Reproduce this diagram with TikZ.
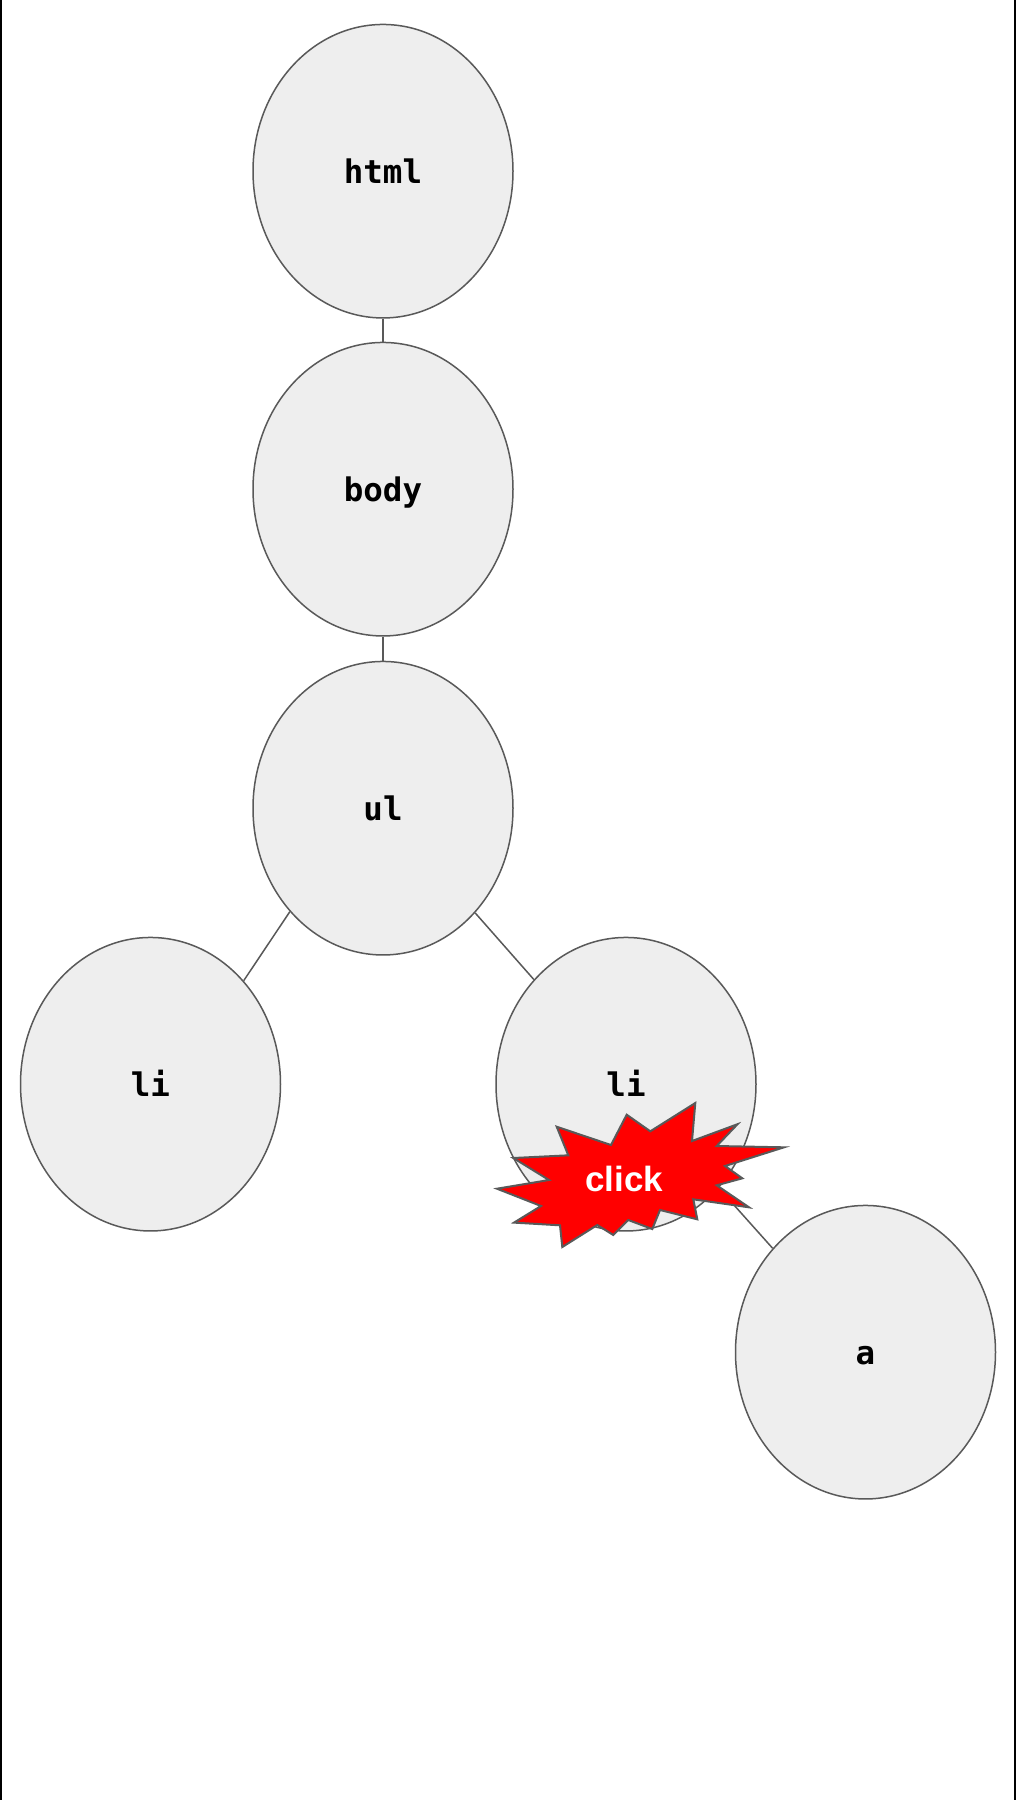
\documentclass[tikz,border=0pt]{standalone}
\usepackage{fontspec}
\newfontfamily\labelmono{DejaVu Sans Mono}
\setmainfont{Liberation Sans}
\usetikzlibrary{shapes.geometric}
\definecolor{nodefill}{HTML}{EEEEEE}
\definecolor{linegray}{HTML}{595959}
\tikzset{
  treenode/.style={ellipse,draw=linegray,fill=nodefill,line width=1.5pt,minimum width=260pt,minimum height=293.5pt,inner sep=0pt,text height=30pt,text depth=4.6pt,font=\labelmono\fontsize{32.5}{36}\selectfont\bfseries},
  edgeline/.style={draw=linegray,line width=1.5pt},
  sideborder/.style={fill=black,draw=none},
  burst/.style={fill=red,draw=linegray,line width=2pt,line join=miter},
  burstlabel/.style={text=white,font=\fontsize{35}{40}\selectfont\bfseries,inner sep=0pt}
}
\begin{document}
\begin{tikzpicture}[x=1pt,y=-1pt]
\useasboundingbox (0,0) rectangle (1016,1800);
\fill[white] (0,0) rectangle (1016,1800);
\fill[sideborder] (0,0) rectangle (2,1800);
\fill[sideborder] (1014,0) rectangle (1016,1800);
\node[treenode] (html) at (383,171.2) {html};
\node[treenode] (body) at (383,489.2) {body};
\node[treenode] (ul) at (383,808.2) {ul};
\node[treenode] (lileft) at (150.5,1084.2) {li};
\node[treenode] (liright) at (626,1084.2) {li};
\node[treenode] (a) at (865.5,1352.2) {a};
\draw[edgeline] (html) -- (body);
\draw[edgeline] (body) -- (ul);
\draw[edgeline] (ul.228.2) -- (lileft.48.6);
\draw[edgeline] (ul) -- (liright);
\draw[edgeline] (liright) -- (a);
\draw[burst] (556.7,1126.7) -- (568.3,1155.3) -- (513.3,1158) -- (549,1180) -- (497,1188.7) -- (541,1206) -- (514,1222.6) -- (560,1225.3) -- (562.3,1247) -- (597.3,1225) -- (613.3,1235) -- (628.3,1220) -- (652.3,1229) -- (660,1210) -- (697.3,1219.3) -- (693.3,1199.3) -- (749,1207.3) -- (716.7,1185.3) -- (742.3,1178.3) -- (725,1166) -- (784,1147.3) -- (716.7,1146) -- (737.5,1124.2) -- (692,1141) -- (695.3,1103) -- (650.3,1131.3) -- (626.7,1114.7) -- (611,1145) -- cycle;
\node[burstlabel] (click) at (624,1179) {click};
\end{tikzpicture}
\end{document}
